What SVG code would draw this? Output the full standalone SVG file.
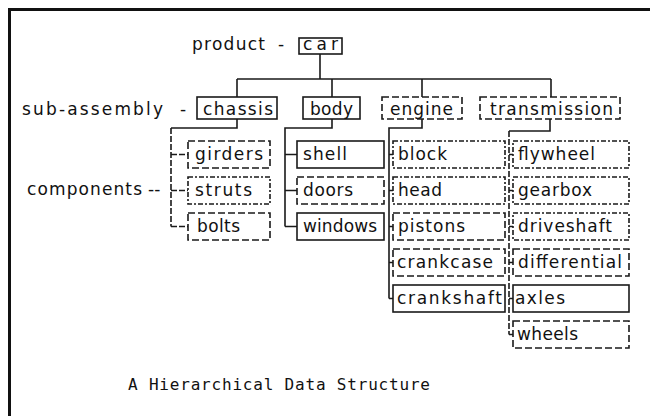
<svg xmlns="http://www.w3.org/2000/svg" width="650" height="416" viewBox="0 0 650 416">
<style>
.frame{stroke:#111;stroke-width:3;fill:none}
.box{fill:none;stroke:#1a1a1a;stroke-width:1.6}
.dash{stroke-dasharray:7 3}
.dot{stroke-dasharray:5 2 2 2}
.wire{fill:none;stroke:#1a1a1a;stroke-width:1.6}
.wd{stroke-dasharray:6 2}
.lbl{font-family:"DejaVu Sans","Liberation Sans",sans-serif;font-size:17px;fill:#111}
.lvl{font-family:"DejaVu Sans","Liberation Sans",sans-serif;font-size:17px;fill:#111}
.cap{font-family:"DejaVu Sans Mono","Liberation Mono",monospace;font-size:16px;fill:#111}
</style>
<rect width="650" height="416" fill="#fff"/>
<path class="frame" d="M9.5,416 V9.5 H650"/>

<g id="level-labels">
<text class="lvl" x="192" y="50" textLength="73" lengthAdjust="spacing">product</text>
<text class="lvl" x="278" y="50">-</text>
<text class="lvl" x="22" y="115" textLength="141" lengthAdjust="spacing">sub-assembly</text>
<text class="lvl" x="180" y="115">-</text>
<text class="lvl" x="27" y="195" textLength="115" lengthAdjust="spacing">components</text>
<text class="lvl" x="148" y="195">--</text>
</g>

<g id="connectors">
<path class="wire" d="M320,54 V79 M237,79 H551 M237,79 V97 M332,79 V97 M422,79 V97 M551,79 V97"/>
<path class="wire" d="M237,119 V128 H171"/>
<path class="wire wd" d="M171,128 V226.5 M171,154.5 H188 M171,190.5 H188 M171,226.5 H188"/>
<path class="wire" d="M332,119 V128 H285 V226.5 M285,154.5 H297 M285,190.5 H297 M285,226.5 H297"/>
<path class="wire" d="M422,119 V128 H389 V298.5 M389,154.5 H393 M389,190.5 H393 M389,226.5 H393 M389,262.5 H393 M389,298.5 H393"/>
<path class="wire" d="M550,119 V131 H509"/>
<path class="wire wd" d="M509,131 V334.5 M509,154.5 H513 M509,190.5 H513 M509,226.5 H513 M509,262.5 H513 M509,298.5 H513 M509,334.5 H513"/>
</g>

<g id="car"><rect class="box" x="299" y="38" width="43" height="16"/><text class="lbl" x="303" y="50" textLength="35" lengthAdjust="spacing">car</text></g>

<g id="chassis"><rect class="box" x="197" y="97" width="80" height="22"/><text class="lbl" x="203" y="115" textLength="70" lengthAdjust="spacing">chassis</text></g>
<g id="body"><rect class="box" x="303" y="97" width="57" height="22"/><text class="lbl" x="310" y="115" textLength="43" lengthAdjust="spacing">body</text></g>
<g id="engine"><rect class="box dash" x="382" y="97" width="80" height="22"/><text class="lbl" x="390" y="115" textLength="63" lengthAdjust="spacing">engine</text></g>
<g id="transmission"><rect class="box dash" x="480" y="97" width="140" height="22"/><text class="lbl" x="490" y="115" textLength="123" lengthAdjust="spacing">transmission</text></g>

<g id="girders"><rect class="box dash" x="188" y="141" width="82" height="27"/><text class="lbl" x="195" y="160" textLength="68" lengthAdjust="spacing">girders</text></g>
<g id="struts"><rect class="box dot" x="188" y="177" width="82" height="27"/><text class="lbl" x="195" y="196" textLength="57" lengthAdjust="spacing">struts</text></g>
<g id="bolts"><rect class="box dash" x="188" y="213" width="82" height="27"/><text class="lbl" x="197" y="232" textLength="43" lengthAdjust="spacing">bolts</text></g>

<g id="shell"><rect class="box" x="297" y="141" width="87" height="27"/><text class="lbl" x="303" y="160" textLength="44" lengthAdjust="spacing">shell</text></g>
<g id="doors"><rect class="box dash" x="297" y="177" width="87" height="27"/><text class="lbl" x="303" y="196" textLength="50" lengthAdjust="spacing">doors</text></g>
<g id="windows"><rect class="box" x="297" y="213" width="87" height="27"/><text class="lbl" x="303" y="232" textLength="74" lengthAdjust="spacing">windows</text></g>

<g id="block"><rect class="box dot" x="393" y="141" width="112" height="27"/><text class="lbl" x="398" y="160" textLength="49" lengthAdjust="spacing">block</text></g>
<g id="head"><rect class="box dot" x="393" y="177" width="112" height="27"/><text class="lbl" x="398" y="196" textLength="44" lengthAdjust="spacing">head</text></g>
<g id="pistons"><rect class="box dash" x="393" y="213" width="112" height="27"/><text class="lbl" x="398" y="232" textLength="67" lengthAdjust="spacing">pistons</text></g>
<g id="crankcase"><rect class="box dash" x="393" y="249" width="112" height="27"/><text class="lbl" x="397" y="268" textLength="96" lengthAdjust="spacing">crankcase</text></g>
<g id="crankshaft"><rect class="box" x="393" y="285" width="112" height="27"/><text class="lbl" x="397" y="304" textLength="105" lengthAdjust="spacing">crankshaft</text></g>

<g id="flywheel"><rect class="box dot" x="513" y="141" width="116" height="27"/><text class="lbl" x="518" y="160" textLength="77" lengthAdjust="spacing">flywheel</text></g>
<g id="gearbox"><rect class="box dot" x="513" y="177" width="116" height="27"/><text class="lbl" x="518" y="196" textLength="74" lengthAdjust="spacing">gearbox</text></g>
<g id="driveshaft"><rect class="box dot" x="513" y="213" width="116" height="27"/><text class="lbl" x="518" y="232" textLength="94" lengthAdjust="spacing">driveshaft</text></g>
<g id="differential"><rect class="box dash" x="513" y="249" width="116" height="27"/><text class="lbl" x="518" y="268" textLength="104" lengthAdjust="spacing">differential</text></g>
<g id="axles"><rect class="box" x="513" y="285" width="116" height="27"/><text class="lbl" x="515" y="304" textLength="50" lengthAdjust="spacing">axles</text></g>
<g id="wheels"><rect class="box dash" x="513" y="321" width="116" height="27"/><text class="lbl" x="517" y="340" textLength="61" lengthAdjust="spacing">wheels</text></g>

<text class="cap" x="128" y="390" textLength="302" lengthAdjust="spacing">A Hierarchical Data Structure</text>
</svg>
